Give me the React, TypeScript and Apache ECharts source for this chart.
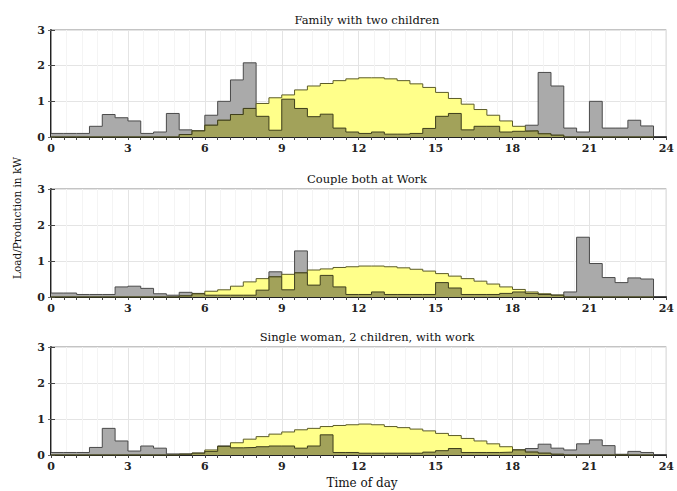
import React, { useEffect, useRef } from "react";
import * as echarts from "echarts";

const titles = [
  "Family with two children",
  "Couple both at Work",
  "Single woman, 2 children, with work",
];
const xTicks = [0, 3, 6, 9, 12, 15, 18, 21, 24];
const yTicks = [0, 1, 2, 3];
const binStart = 0;
const binWidth = 0.5;

const load1 = [0.1, 0.1, 0.1, 0.3, 0.63, 0.54, 0.45, 0.1, 0.14, 0.66, 0.2, 0.17, 0.61, 1.0, 1.6, 2.08, 0.58, 0.19, 1.06, 0.8, 0.57, 0.64, 0.25, 0.14, 0.1, 0.14, 0.08, 0.08, 0.1, 0.24, 0.58, 0.66, 0.2, 0.3, 0.3, 0.14, 0.16, 0.33, 1.81, 1.43, 0.25, 0.14, 1.0, 0.25, 0.25, 0.47, 0.31];
const prod1 = [0, 0, 0, 0, 0, 0, 0, 0, 0, 0, 0.07, 0.17, 0.33, 0.47, 0.63, 0.8, 0.94, 1.1, 1.18, 1.32, 1.43, 1.5, 1.58, 1.63, 1.66, 1.66, 1.63, 1.58, 1.49, 1.39, 1.25, 1.08, 0.92, 0.77, 0.61, 0.45, 0.3, 0.17, 0.09, 0.05, 0, 0, 0, 0, 0, 0, 0];
const load2 = [0.11, 0.11, 0.07, 0.07, 0.07, 0.28, 0.3, 0.24, 0.09, 0.05, 0.13, 0.1, 0.05, 0.05, 0.05, 0.05, 0.19, 0.7, 0.2, 1.28, 0.33, 0.6, 0.28, 0.07, 0.07, 0.14, 0.07, 0.07, 0.07, 0.07, 0.4, 0.25, 0.07, 0.07, 0.07, 0.1, 0.14, 0.1, 0.07, 0.05, 0.14, 1.66, 0.93, 0.54, 0.4, 0.53, 0.5];
const prod2 = [0, 0, 0, 0, 0, 0, 0, 0, 0, 0, 0.03, 0.09, 0.16, 0.2, 0.3, 0.42, 0.51, 0.56, 0.63, 0.67, 0.75, 0.78, 0.82, 0.84, 0.86, 0.86, 0.84, 0.81, 0.77, 0.72, 0.65, 0.58, 0.51, 0.44, 0.36, 0.28, 0.21, 0.14, 0.09, 0.05, 0, 0, 0, 0, 0, 0, 0];
const load3 = [0.07, 0.07, 0.07, 0.21, 0.74, 0.39, 0.11, 0.25, 0.19, 0.03, 0.03, 0.05, 0.1, 0.25, 0.2, 0.21, 0.23, 0.25, 0.25, 0.19, 0.25, 0.56, 0.07, 0.07, 0.05, 0.05, 0.05, 0.05, 0.05, 0.08, 0.12, 0.18, 0.07, 0.07, 0.07, 0.08, 0.14, 0.18, 0.3, 0.19, 0.14, 0.31, 0.42, 0.26, 0.02, 0.1, 0.07];
const prod3 = [0, 0, 0, 0, 0, 0, 0, 0, 0, 0, 0.02, 0.05, 0.14, 0.24, 0.34, 0.44, 0.51, 0.58, 0.64, 0.7, 0.74, 0.79, 0.82, 0.84, 0.86, 0.84, 0.79, 0.76, 0.72, 0.67, 0.6, 0.54, 0.46, 0.39, 0.31, 0.23, 0.14, 0.08, 0.05, 0.02, 0, 0, 0, 0, 0, 0, 0];

const loads = [load1, load2, load3];
const prods = [prod1, prod2, prod3];

const FONT = "DejaVu Serif";

function toSteps(vals: number[]) {
  const pts: [number, number][] = vals.map((v, i) => [binStart + i * binWidth, v]);
  pts.push([binStart + vals.length * binWidth, 0]);
  return pts;
}

export default function App() {
  const ref = useRef<HTMLDivElement>(null);
  useEffect(() => {
    if (!ref.current) return;
    const chart = echarts.init(ref.current, null, { renderer: "svg" });
    const gridTops = [30, 189, 347];
    const gridH = [107, 108, 108];
    const grids: any[] = [];
    const xAxes: any[] = [];
    const yAxes: any[] = [];
    const series: any[] = [];
    const titleArr: any[] = [];
    gridTops.forEach((top, k) => {
      grids.push({
        left: 51,
        width: 622,
        top,
        height: gridH[k],
        show: true,
        borderColor: "#888",
        borderWidth: 1,
        backgroundColor: "#fff",
      });
      titleArr.push({
        text: titles[k],
        left: 362,
        textAlign: "center",
        top: top - 21,
        textStyle: { fontFamily: FONT, fontSize: 11.5, fontWeight: "normal", color: "#111" },
      });
      xAxes.push({
        type: "value",
        gridIndex: k,
        min: 0,
        max: 24,
        interval: 3,
        position: "bottom",
        axisLine: { show: true, lineStyle: { color: "#222", width: 1 } },
        axisTick: { show: false },
        axisLabel: {
          fontFamily: FONT,
          fontSize: 11,
          fontWeight: "bold",
          color: "#222",
          margin: 6,
          formatter: (v: number) => (xTicks.includes(v) ? String(v) : ""),
        },
        splitLine: { show: true, lineStyle: { color: "#e4e4e4", width: 1 } },
        minorTick: { show: false },
        minorSplitLine: { show: true, lineStyle: { color: "#f4f4f4", width: 1 } },
        splitNumber: 8,
      });
      xAxes.push({
        type: "value",
        gridIndex: k,
        min: 0,
        max: 24,
        interval: 0.5,
        position: "top",
        axisLine: { show: true, lineStyle: { color: "#222", width: 1.5 } },
        axisTick: { show: true, inside: true, length: 3, lineStyle: { color: "#444" } },
        axisLabel: { show: false },
        splitLine: { show: false },
      });
      yAxes.push({
        type: "value",
        gridIndex: k,
        min: 0,
        max: 3,
        interval: 1,
        position: "left",
        axisLine: { show: true, lineStyle: { color: "#222", width: 2 } },
        axisTick: { show: true, inside: true, length: 4, lineStyle: { color: "#444" } },
        axisLabel: {
          fontFamily: FONT,
          fontSize: 11,
          fontWeight: "bold",
          color: "#222",
          margin: 6,
          formatter: (v: number) => (yTicks.includes(v) ? String(v) : ""),
        },
        splitLine: { show: true, lineStyle: { color: "#e4e4e4", width: 1 } },
      });
      yAxes.push({
        type: "value",
        gridIndex: k,
        min: 0,
        max: 3,
        interval: 1,
        position: "right",
        axisLine: { show: true, lineStyle: { color: "#999", width: 1 } },
        axisTick: { show: true, inside: true, length: 3, lineStyle: { color: "#666" } },
        axisLabel: { show: false },
        splitLine: { show: false },
      });
      const load = loads[k];
      const prod = prods[k];
      const overlap = load.map((v, i) => Math.min(v, prod[i]));
      const common = {
        type: "line",
        xAxisIndex: k * 2,
        yAxisIndex: k * 2,
        step: "end",
        symbol: "none",
        silent: true,
      };
      series.push({
        ...common,
        name: "Load " + (k + 1),
        data: toSteps(load),
        z: 2,
        lineStyle: { color: "#4a4a4a", width: 1 },
        areaStyle: { color: "#aaaaaa", opacity: 1 },
      });
      series.push({
        ...common,
        name: "Production " + (k + 1),
        data: toSteps(prod),
        z: 3,
        lineStyle: { color: "#5c5c28", width: 1 },
        areaStyle: { color: "#ffff8a", opacity: 1 },
      });
      series.push({
        ...common,
        name: "Overlap " + (k + 1),
        data: toSteps(overlap),
        z: 4,
        lineStyle: { color: "#3e3e1c", width: 1 },
        areaStyle: { color: "#a2a25a", opacity: 1 },
      });
    });
    chart.setOption({
      animation: false,
      backgroundColor: "#fff",
      title: titleArr,
      grid: grids,
      xAxis: xAxes,
      yAxis: yAxes,
      series,
      graphic: [
        {
          type: "text",
          x: 17,
          y: 218,
          rotation: Math.PI / 2,
          style: {
            text: "Load/Production in kW",
            fontFamily: FONT,
            fontSize: 10.5,
            fill: "#111",
            align: "center",
            verticalAlign: "middle",
          },
        },
        {
          type: "text",
          x: 362,
          y: 483,
          style: {
            text: "Time of day",
            fontFamily: FONT,
            fontSize: 12,
            fill: "#111",
            align: "center",
            verticalAlign: "middle",
          },
        },
      ],
    });
    return () => chart.dispose();
  }, []);
  return (
    <div
      ref={ref}
      style={{ position: "absolute", left: 0, top: 0, width: 677, height: 491 }}
    />
  );
}
